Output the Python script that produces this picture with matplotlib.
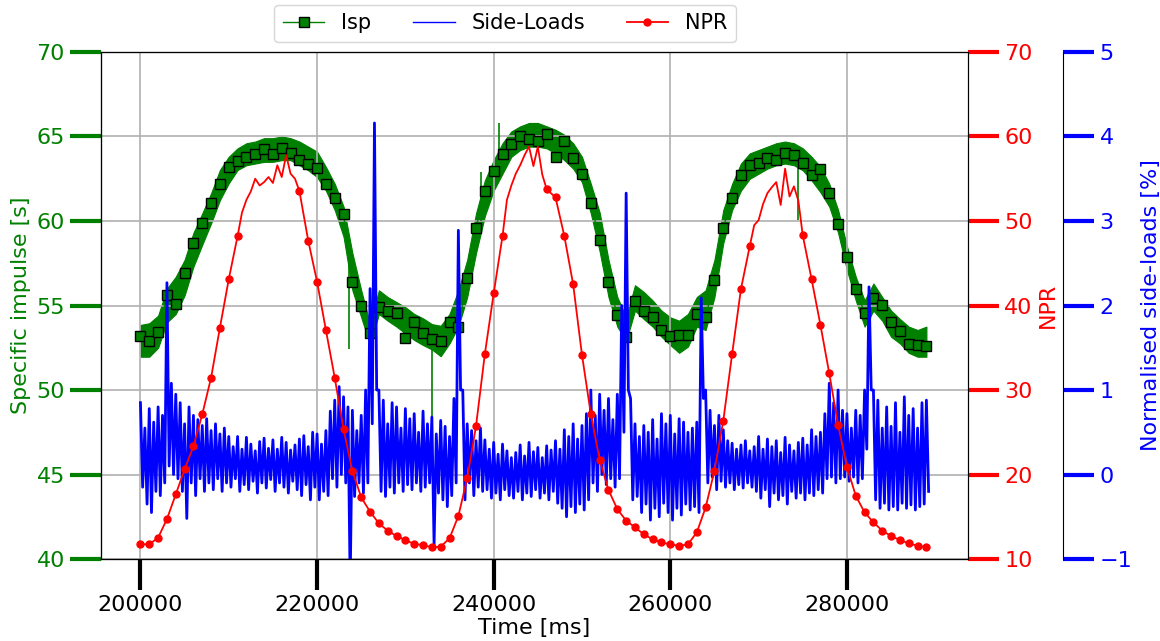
import numpy as np
import matplotlib
matplotlib.use('Agg')
import matplotlib.pyplot as plt

# ---- data (time in s, converted to ms below) ----
# Isp: upper / lower edge of the noisy band and the marker samples, one per second 200..289 s
isp_hi = [53.85, 53.95, 54.4, 56.0, 56.7, 57.7, 59.3, 60.45, 61.64, 63.02,
          63.8, 64.3, 64.6, 64.7, 64.9, 64.9, 65.0, 64.9, 64.7, 64.4,
          64.1, 63.2, 62.2, 60.85, 58.1, 55.9, 53.9, 55.9, 55.5, 55.2,
          54.9, 54.5, 54.24, 53.9, 53.8, 54.5, 55.9, 57.7, 60.45, 62.4,
          63.6, 64.6, 65.3, 65.6, 65.8, 65.8, 65.6, 65.4, 65.1, 64.6,
          63.8, 62.2, 60.5, 57.7, 55.5, 54.3, 56.2, 55.8, 55.3, 54.7,
          54.3, 54.1, 54.5, 55.5, 55.9, 57.7, 60.65, 62.2, 63.4, 64.0,
          64.2, 64.4, 64.6, 64.7, 64.6, 64.3, 63.8, 63.2, 62.2, 60.65,
          58.5, 56.7, 55.3, 56.3, 55.5, 54.7, 54.2, 53.75, 53.55, 53.75]
isp_lo = [51.97, 51.97, 52.5, 54.0, 54.5, 55.6, 57.3, 58.6, 59.86, 61.24,
          62.23, 63.02, 63.3, 63.4, 63.5, 63.5, 63.6, 63.6, 63.3, 63.0,
          62.6, 61.8, 60.65, 59.07, 55.9, 54.3, 52.66, 54.5, 54.1, 53.75,
          53.35, 52.96, 52.66, 52.4, 52.0, 52.76, 53.75, 55.5, 58.1, 60.3,
          61.8, 62.8, 63.8, 64.2, 64.4, 64.4, 64.3, 64.0, 63.6, 63.1,
          62.3, 60.45, 58.2, 55.5, 53.75, 52.9, 54.7, 54.2, 53.75, 53.15,
          52.66, 52.2, 52.57, 53.75, 53.55, 55.5, 58.7, 60.65, 61.8, 62.5,
          62.8, 63.1, 63.3, 63.4, 63.3, 63.0, 62.4, 61.7, 60.85, 59.3,
          57.1, 55.3, 53.75, 54.7, 54.1, 53.15, 52.76, 52.2, 51.97, 51.97]
isp_mark = [53.2, 52.9, 53.45, 55.6, 55.1, 56.9, 58.7, 59.9, 61.05, 62.2,
            63.2, 63.55, 63.8, 63.95, 64.25, 63.95, 64.3, 64.05, 63.6, 63.35,
            63.15, 62.2, 61.35, 60.4, 56.4, 55.0, 53.4, 54.9, 54.65, 54.55,
            53.1, 54.0, 53.35, 53.0, 52.9, 54.0, 53.7, 56.6, 59.6, 61.8,
            62.95, 63.95, 64.55, 65.0, 64.85, 64.75, 65.15, 63.8, 64.75, 63.75,
            62.8, 61.05, 58.9, 56.4, 54.45, 53.15, 55.25, 54.7, 54.3, 53.55,
            53.2, 53.25, 53.25, 54.5, 54.3, 56.5, 59.6, 61.35, 62.7, 63.3,
            63.45, 63.7, 63.6, 64.0, 63.9, 63.45, 62.7, 63.1, 61.65, 59.8,
            57.85, 56.0, 54.55, 55.45, 55.05, 54.0, 53.5, 52.75, 52.65, 52.6]
# single-sample glitches of the Isp trace (time s, from, to)
glitch_t = [223.6, 233.0, 238.6, 240.6, 274.5]
glitch_from = [58.5, 53.0, 60.0, 63.5, 63.5]
glitch_to = [52.4, 47.2, 62.9, 65.8, 60.06]

# Side-loads: upper / lower excursion every 0.5 s, 200.0..289.0 s
sl_hi = [0.85, 0.55, 0.78, 0.62, 0.80, 0.70, 2.27, 1.08, 0.95, 0.85,
         0.60, 0.80, 0.70, 0.65, 0.58, 0.66, 0.52, 0.60, 0.48, 0.55,
         0.45, 0.33, 0.45, 0.30, 0.44, 0.36, 0.28, 0.39, 0.43, 0.31,
         0.41, 0.30, 0.44, 0.38, 0.29, 0.35, 0.42, 0.46, 0.33, 0.50,
         0.48, 0.36, 0.52, 0.75, 0.88, 1.04, 0.92, 0.80, 0.76, 0.52,
         0.70, 1.00, 2.20, 4.16, 1.00, 0.88, 0.60, 0.85, 0.80, 0.55,
         0.78, 0.66, 0.72, 0.50, 0.75, 0.60, 0.68, 0.48, 0.64, 0.57,
         0.45, 0.90, 2.89, 1.00, 0.60, 0.52, 0.40, 0.55, 0.41, 0.30,
         0.38, 0.24, 0.36, 0.28, 0.20, 0.26, 0.35, 0.22, 0.38, 0.27,
         0.32, 0.20, 0.34, 0.29, 0.40, 0.30, 0.53, 0.45, 0.60, 0.42,
         0.58, 0.72, 1.00, 0.70, 0.95, 0.76, 0.90, 0.65, 0.95, 2.00,
         3.33, 0.90, 0.60, 0.45, 0.58, 0.50, 0.65, 0.42, 0.72, 0.60,
         0.70, 0.48, 0.66, 0.62, 0.50, 0.55, 0.62, 2.09, 1.00, 0.76,
         0.58, 0.70, 0.53, 0.40, 0.37, 0.30, 0.35, 0.40, 0.28, 0.33,
         0.45, 0.30, 0.42, 0.33, 0.40, 0.26, 0.44, 0.35, 0.28, 0.38,
         0.43, 0.35, 0.53, 0.45, 0.50, 0.72, 1.08, 0.85, 1.00, 0.76,
         0.72, 0.55, 0.76, 0.70, 1.00, 2.22, 1.00, 0.88, 0.55, 0.80,
         0.57, 0.85, 0.50, 0.92, 0.70, 0.78, 0.55, 0.85, 0.88]
sl_lo = [-0.15, -0.35, -0.45, -0.20, -0.25, -0.10, 0.10, 0.00, -0.05, -0.20,
         -0.52, -0.10, -0.25, -0.05, -0.20, -0.10, -0.18, -0.05, -0.20, -0.10,
         -0.15, -0.05, -0.20, -0.12, -0.18, -0.08, -0.22, -0.10, -0.16, -0.06,
         -0.20, -0.10, -0.15, -0.22, -0.08, -0.18, -0.25, -0.12, -0.30, -0.15,
         -0.30, -0.20, -0.25, -0.05, -0.15, 0.00, -0.10, -1.30, -0.26, -0.10,
         -0.22, -0.10, 0.60, 1.00, -0.20, -0.26, -0.15, -0.22, -0.10, -0.20,
         -0.12, -0.18, -0.10, -0.20, -0.15, -0.10, -0.83, -0.22, -0.30, -0.38,
         -0.25, -0.10, 1.00, -0.30, -0.10, -0.25, -0.15, -0.20, -0.18, -0.28,
         -0.22, -0.30, -0.18, -0.25, -0.28, -0.20, -0.30, -0.22, -0.26, -0.18,
         -0.28, -0.22, -0.30, -0.20, -0.34, -0.40, -0.50, -0.38, -0.45, -0.35,
         -0.42, -0.30, -0.10, -0.20, 0.00, -0.12, -0.05, -0.15, -0.05, 0.50,
         1.00, -0.30, -0.26, -0.45, -0.35, -0.54, -0.40, -0.50, -0.34, -0.45,
         -0.54, -0.40, -0.48, -0.35, -0.42, -0.38, -0.45, 0.90, -0.10, -0.03,
         -0.18, -0.08, -0.15, -0.10, -0.18, -0.12, -0.16, -0.10, -0.15, -0.20,
         -0.28, -0.18, -0.38, -0.22, -0.30, -0.25, -0.35, -0.20, -0.28, -0.22,
         -0.30, -0.22, -0.25, -0.18, -0.22, -0.05, -0.03, -0.10, -0.05, -0.03,
         -0.08, -0.03, -0.10, -0.05, 0.30, 1.00, -0.30, -0.40, -0.34, -0.42,
         -0.38, -0.42, -0.34, -0.40, -0.36, -0.42, -0.38, -0.35, -0.20]

# NPR: 1 s samples on the slopes, 0.5 s samples through the noisy peaks
npr_a = [11.74, 11.74, 12.52, 14.73, 17.65, 20.61, 23.37, 27.12, 31.46, 37.38, 43.1, 48.22]  # 200..211
npr_b = [51.0, 52.5, 53.5, 55.0, 54.2, 54.6, 55.2, 54.5, 56.6, 55.2, 57.8, 55.6, 55.0]  # 211.5..217.5
npr_c = [53.55, 47.67, 42.82, 37.1, 31.46, 25.34, 20.4, 17.3, 15.6, 14.22, 13.35, 12.72,
         12.25, 11.77, 11.66, 11.38, 11.46, 12.45, 15.09, 19.55, 25.74, 34.26, 41.43, 48.22]  # 218..241
npr_d = [52.5, 54.2, 55.6, 56.6, 57.8, 58.8, 56.5, 58.8, 55.5]  # 241.5..245.5
npr_e = [53.75, 52.8, 48.22, 42.5, 34.14, 27.16, 21.72, 18.17, 15.9, 14.54, 13.75, 12.92,
         12.33, 11.97, 11.74, 11.54, 11.74, 13.15, 16.1, 20.45, 26.37, 34.26, 41.95, 47.04]  # 246..269
npr_f = [49.5, 50.1, 52.0, 53.3, 54.0, 54.6, 51.9, 56.2, 52.9, 54.1, 52.4]  # 269.5..274.5
npr_g = [48.3, 43.1, 37.7, 31.97, 25.86, 20.9, 17.49, 15.52, 14.34, 13.35, 12.72,
         12.25, 11.85, 11.58, 11.38]  # 275..289

# ---- time axes ----
t_isp = 200000 + 1000 * np.arange(len(isp_hi))
t_sl = 200000 + 500 * np.arange(len(sl_hi))
# interleave the excursions to draw the noisy trace
t_sl_z = np.empty(2 * len(t_sl))
t_sl_z[0::2] = t_sl
t_sl_z[1::2] = t_sl + 250
v_sl_z = np.empty(2 * len(t_sl))
v_sl_z[0::2] = sl_hi
v_sl_z[1::2] = sl_lo

pieces = [(200, 1, npr_a, True), (211.5, 0.5, npr_b, False), (218, 1, npr_c, True),
          (241.5, 0.5, npr_d, False), (246, 1, npr_e, True), (269.5, 0.5, npr_f, False),
          (275, 1, npr_g, True)]
t_npr, v_npr, mark_npr = [], [], []
for start, step, vals, marked in pieces:
    for i, v in enumerate(vals):
        if marked:
            mark_npr.append(len(t_npr))
        t_npr.append((start + i * step) * 1000)
        v_npr.append(v)

# ---- figure ----
fig = plt.figure(figsize=(11.6, 6.41), dpi=100)
ax = fig.add_axes([0.0871, 0.1279, 0.7474, 0.7910])
ax_sl = ax.twinx()
ax_npr = ax.twinx()
ax_sl.spines['right'].set_position(('axes', 1.11))

# Isp
ax.fill_between(t_isp, isp_lo, isp_hi, color='green', linewidth=0.8, edgecolor='green')
ax.vlines(np.array(glitch_t) * 1000, glitch_from, glitch_to, color='green', linewidth=1.2)
h_isp, = ax.plot(t_isp, isp_mark, color='green', linewidth=1.0, marker='s', markersize=6.5,
                 markerfacecolor='green', markeredgecolor='black', markeredgewidth=1.0, label='Isp')

# Side-loads (dense noisy trace)
ax_sl.plot(t_sl_z, v_sl_z, color='blue', linewidth=2.0)
h_sl, = ax_sl.plot([], [], color='blue', linewidth=1.0, label='Side-Loads')

# NPR
h_npr, = ax_npr.plot(t_npr, v_npr, color='red', linewidth=1.3, marker='o', markersize=5,
                     markevery=mark_npr, label='NPR')

# axes limits and ticks
ax.set_ylim(40, 70)
ax.set_yticks(np.arange(40, 71, 5))
ax_npr.set_ylim(10, 70)
ax_npr.set_yticks(np.arange(10, 71, 10))
ax_sl.set_ylim(-1, 5)
ax_sl.set_yticks(np.arange(-1, 6, 1))
ax.set_xticks([200000, 220000, 240000, 260000, 280000])

ax.tick_params(axis='x', length=22, width=3, labelsize=16, pad=4)
ax.tick_params(axis='y', colors='green', length=22, width=3, labelsize=16, pad=4)
ax_npr.tick_params(axis='y', colors='red', length=22, width=3, labelsize=16, pad=4)
ax_sl.tick_params(axis='y', colors='blue', length=22, width=3, labelsize=16, pad=4)

ax.set_xlabel('Time [ms]', fontsize=16, labelpad=2)
ax.set_ylabel('Specific impulse [s]', color='green', fontsize=16, labelpad=4)
ax_npr.set_ylabel('NPR', color='red', fontsize=16, labelpad=4)
ax_sl.set_ylabel('Normalised side-loads [%]', color='blue', fontsize=16, labelpad=6)

ax.grid(True, color='#b0b0b0', linewidth=1.2)

fig.legend(handles=[h_isp, h_sl, h_npr], loc='upper center', ncol=3, fontsize=15,
           borderaxespad=0, bbox_to_anchor=(505 / 1160, 1 - 5 / 641))

fig.savefig('out.png', dpi=100)
